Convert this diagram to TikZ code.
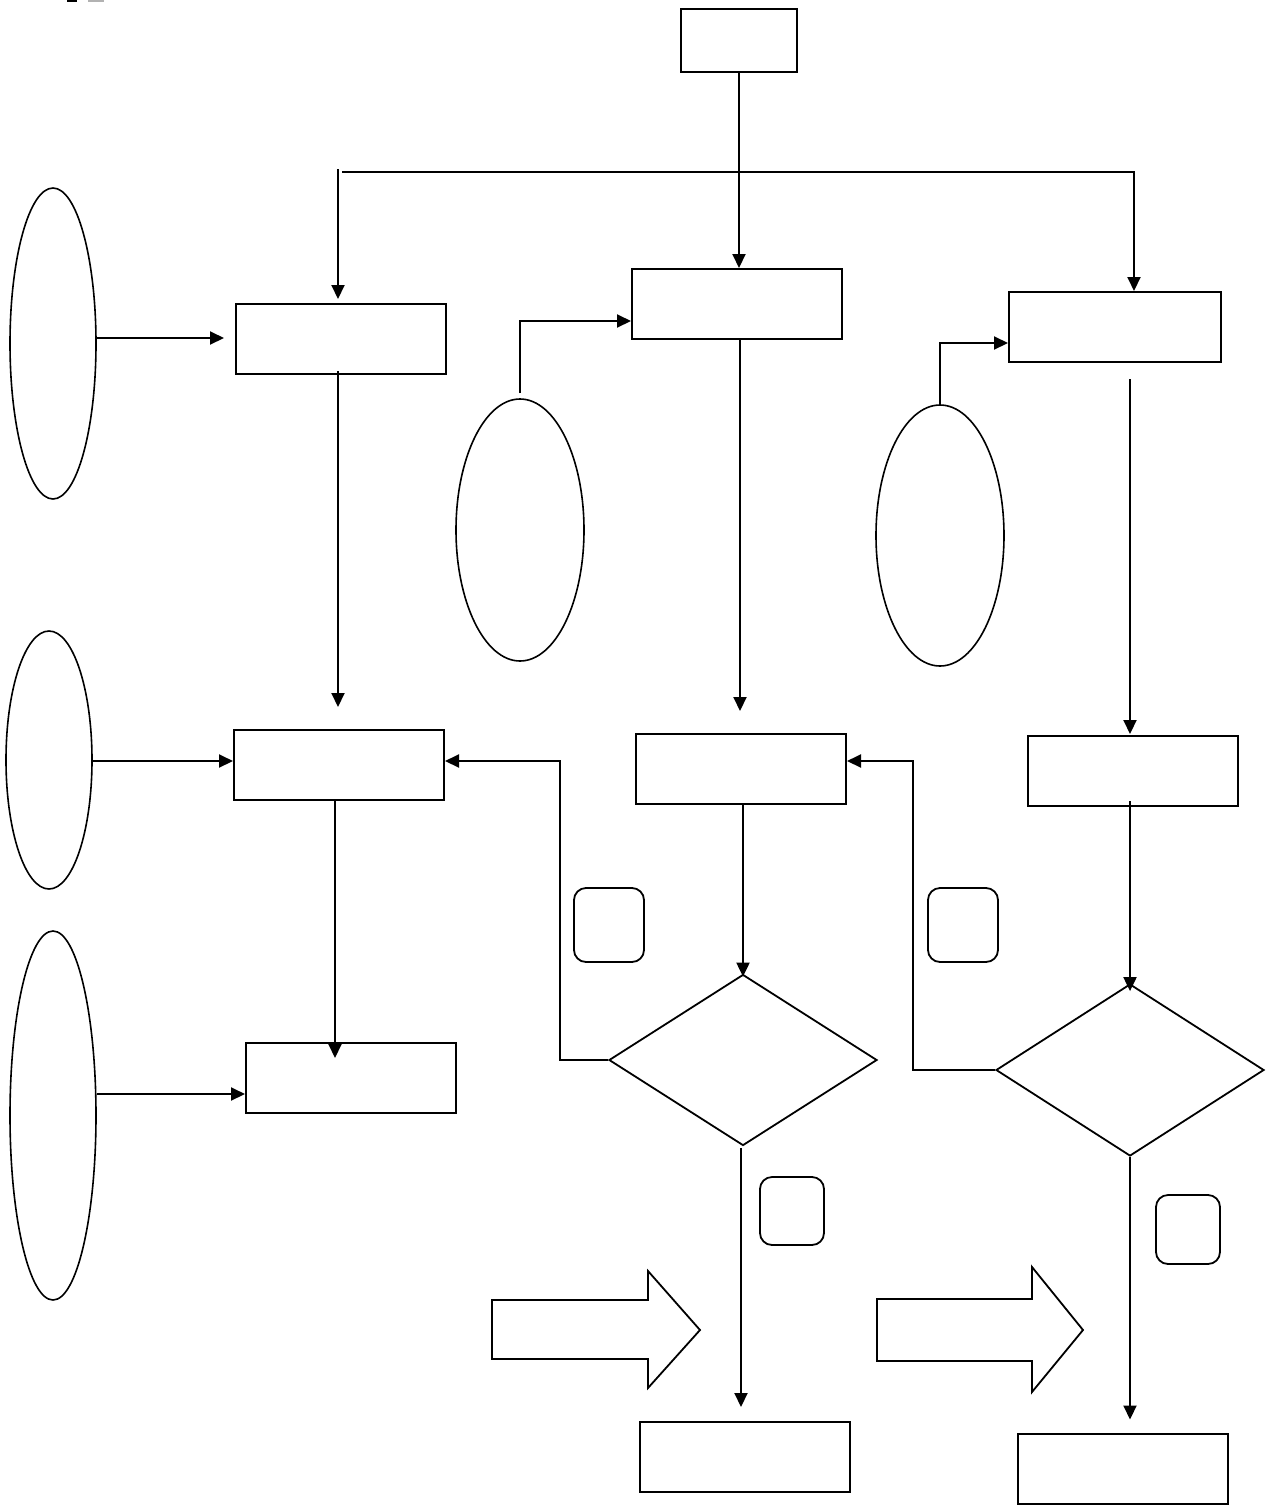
\documentclass[tikz,border=0pt]{standalone}
\usetikzlibrary{arrows.meta,shapes.geometric,calc}
\begin{document}
\begin{tikzpicture}[x=1pt,y=-1pt,line width=2pt,
  box/.style={draw,rectangle,minimum width=210pt,minimum height=70pt,inner sep=0pt},
  ell/.style={draw,ellipse,inner sep=0pt,line width=1.6pt},
  dia/.style={draw,diamond,inner sep=0pt,line width=1.8pt},
  rbox/.style={draw,rectangle,rounded corners=12pt,inner sep=0pt,line width=1.8pt},
  arr/.style={-{Triangle[length=14pt,width=13pt]}},
  blockarrow/.style={draw,line width=1.8pt,line join=miter}]
\useasboundingbox (0,0) rectangle (1275,1505);
% fragments at top-left edge
\fill (67,0) rectangle (77,2);
\fill[gray!60] (88,0) rectangle (104,2);
% boxes
\node[box,minimum width=116pt,minimum height=63pt] (top) at (739,40.5) {};
\node[box] (bA) at (341,339) {};
\node[box] (bB) at (737,304) {};
\node[box,minimum width=212pt] (bC) at (1115,327) {};
\node[box] (bD) at (339,765) {};
\node[box] (bE) at (741,769) {};
\node[box] (bF) at (1133,771) {};
\node[box] (bG) at (351,1078) {};
\node[box] (bH) at (745,1457) {};
\node[box] (bI) at (1123,1468.5) {};
% ellipses
\node[ell,minimum width=86pt,minimum height=311pt] (e1) at (53,343.5) {};
\node[ell,minimum width=128pt,minimum height=262pt] (e2) at (520,530) {};
\node[ell,minimum width=128pt,minimum height=261pt] (e3) at (940,535.5) {};
\node[ell,minimum width=86pt,minimum height=258pt] (e4) at (49,760) {};
\node[ell,minimum width=86pt,minimum height=369pt] (e5) at (53,1115.5) {};
% diamonds
\node[dia,minimum width=268pt,minimum height=171pt] (d1) at (743,1060) {};
\node[dia,minimum width=268pt,minimum height=172pt] (d2) at (1130,1070) {};
% rounded boxes
\node[rbox,minimum width=70pt,minimum height=74pt] (r1) at (609,925) {};
\node[rbox,minimum width=70pt,minimum height=74pt] (r2) at (963,925) {};
\node[rbox,minimum width=64pt,minimum height=68pt] (r3) at (792,1211) {};
\node[rbox,minimum width=64pt,minimum height=69pt] (r4) at (1188,1229.5) {};
% block arrows
\draw[blockarrow] (492,1300) -- (648,1300) -- (648,1271) -- (700,1330) -- (648,1388) -- (648,1359) -- (492,1359) -- cycle;
\draw[blockarrow] (877,1299) -- (1032,1299) -- (1032,1267) -- (1083,1330) -- (1032,1392) -- (1032,1361) -- (877,1361) -- cycle;
% coordinates of the trunk line
\coordinate (hL) at (342,172);
\coordinate (hR) at (1134,172);
\coordinate (vL) at (338,169);
% connectors
\draw[arr] (top.south) -- (top.south |- bB.north);
\draw[arr] (hL) -- (hR) -- (hR |- bC.north);
\draw[arr,shorten >=4pt] (vL) -- (vL |- bA.north);
\draw[arr,shorten >=11pt] ($(e1.east)+(0,-5.5)$) -- ($(e1.east -| bA.west)+(0,-5.5)$);
\draw[arr,shorten <=5pt] (e2.north) |- ($(bB.west)+(0,17)$);
\draw[arr] (e3.north) |- ($(bC.west)+(0,16)$);
\draw[arr,shorten >=22pt] ($(bA.south)+(-3,-4)$) -- ($(bA.south |- bD.north)+(-3,0)$);
\draw[arr,shorten >=22pt] ($(bB.south)+(3,0)$) -- ($(bB.south |- bE.north)+(3,0)$);
\draw[arr,shorten <=16pt,shorten >=1pt] ($(bC.south)+(15,0)$) -- ($(bC.south |- bF.north)+(15,0)$);
\draw[arr] ($(e4.east)+(0,1)$) -- ($(e4.east -| bD.west)+(0,1)$);
\draw[arr] ($(e5.east)+(0,-21.5)$) -- ($(e5.east -| bG.west)+(0,-21.5)$);
\draw[arr] ($(bD.south)+(-4,0)$) -- ($(bD.south |- bG.north)+(-4,16)$);
\draw[arr] (bE.south -| d1.north) -- ($(d1.north)+(0,3)$);
\draw[arr] (d1.west) -- ++(-48,0) |- ($(bD.east)+(0,-4)$);
\draw[arr] (d2.west) -- ++(-82,0) |- ($(bE.east)+(0,-8)$);
\draw[arr] ($(bF.south)+(-3,-6)$) -- ($(bF.south |- d2.north)+(-3,8)$);
\draw[arr,shorten >=14pt] ($(d1.south)+(-2,2)$) -- ($(d1.south |- bH.north)+(-2,0)$);
\draw[arr,shorten >=13pt] (d2.south) -- (d2.south |- bI.north);
\end{tikzpicture}
\end{document}
